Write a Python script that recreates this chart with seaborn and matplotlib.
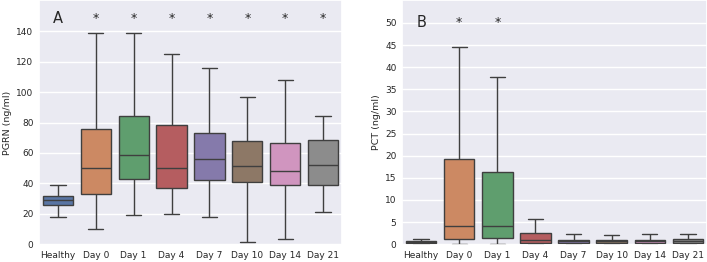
import numpy as np
import pandas as pd
import seaborn as sns
import matplotlib
matplotlib.use("Agg")
import matplotlib.pyplot as plt

categories = ["Healthy", "Day 0", "Day 1", "Day 4", "Day 7", "Day 10", "Day 14", "Day 21"]

# PGRN (ng/ml): whisker low, Q1, median, Q3, whisker high
pgrn_low = [17.9, 10.3, 19.3, 19.9, 17.9, 1.5, 3.3, 21.0]
pgrn_q1 = [25.6, 33.0, 43.1, 37.0, 42.0, 41.1, 38.7, 38.7]
pgrn_med = [28.9, 50.3, 58.8, 50.3, 56.2, 51.6, 48.3, 52.3]
pgrn_q3 = [31.7, 75.7, 84.0, 78.5, 73.0, 67.8, 66.7, 68.7]
pgrn_high = [38.9, 139.1, 139.0, 125.4, 116.2, 96.7, 108.0, 84.0]
pgrn_sig = ["", "*", "*", "*", "*", "*", "*", "*"]

# PCT (ng/ml)
pct_low = [0.1, 0.0, 0.1, 0.0, 0.0, 0.0, 0.0, 0.0]
pct_q1 = [0.2, 1.1, 1.3, 0.15, 0.15, 0.15, 0.15, 0.15]
pct_med = [0.4, 4.1, 4.1, 0.9, 0.6, 0.6, 0.6, 0.7]
pct_q3 = [0.6, 19.3, 16.3, 2.6, 1.0, 0.95, 1.0, 1.2]
pct_high = [1.1, 44.6, 37.9, 5.7, 2.35, 2.0, 2.35, 2.35]
pct_sig = ["", "*", "*", "", "", "", "", ""]


def make_df(low, q1, med, q3, high):
    rows = []
    for i, c in enumerate(categories):
        for v in (low[i], q1[i], med[i], q3[i], high[i]):
            rows.append({"group": c, "value": v})
    return pd.DataFrame(rows)


sns.set_theme(style="darkgrid")
plt.rcParams["font.family"] = ["DejaVu Sans"]

fig = plt.figure(figsize=(7.07, 2.62), dpi=100)
W, H = 707, 262
ax1 = fig.add_axes([39 / W, (H - 245) / H, (342 - 39) / W, 245 / H])
ax2 = fig.add_axes([402 / W, (H - 245) / H, (707 - 402) / W, 245 / H])

pal = sns.color_palette("deep", len(categories))

panels = [
    (ax1, make_df(pgrn_low, pgrn_q1, pgrn_med, pgrn_q3, pgrn_high), "PGRN (ng/ml)",
     (-0.5, 160.6), np.arange(0, 141, 20), "A", pgrn_sig, 148.5),
    (ax2, make_df(pct_low, pct_q1, pct_med, pct_q3, pct_high), "PCT (ng/ml)",
     (-0.2, 55.2), np.arange(0, 51, 5), "B", pct_sig, 50.0),
]

for ax, df, ylabel, ylim, yticks, letter, sig, ypos in panels:
    sns.boxplot(data=df, x="group", y="value", hue="group", palette=pal,
                order=categories, whis=np.inf, width=0.8, ax=ax,
                linecolor="#3f3f3f", linewidth=1.0, legend=False)
    ax.set_ylim(*ylim)
    ax.set_yticks(yticks)
    ax.set_xlim(-0.5, 7.5)
    ax.set_xlabel("")
    ax.set_ylabel(ylabel, fontsize=6.8, labelpad=3)
    ax.tick_params(axis="both", labelsize=6.5, length=0, pad=4)
    ax.text(0, ypos, letter, ha="center", va="center", fontsize=10.5)
    for i, s in enumerate(sig):
        if s:
            ax.text(i, ypos, s, ha="center", va="center", fontsize=9)

fig.savefig("out.png", dpi=100)
